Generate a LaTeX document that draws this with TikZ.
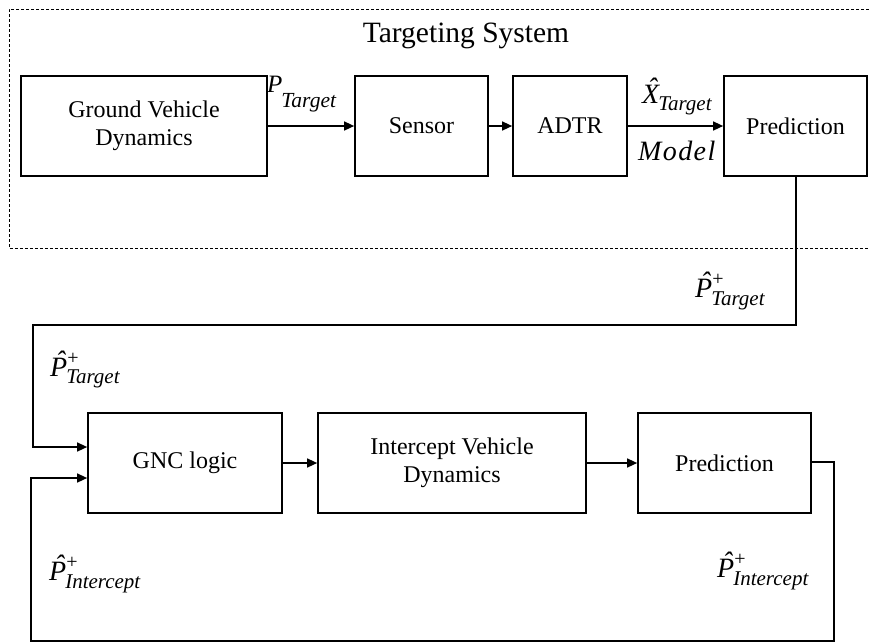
\documentclass[tikz,border=0pt]{standalone}
\usepackage{fontspec}
\setmainfont{Liberation Serif}
\usetikzlibrary{arrows.meta}
\newcommand{\hatlbl}[4]{% #1 letter, #2 sup, #3 sub, #4 drop
{\fontsize{28}{28}\selectfont\itshape\accent"02C6 #1}\rlap{\raisebox{12pt}{\fontsize{20}{20}\selectfont #2}}\kern-1pt\raisebox{-#4}{\fontsize{21}{21}\selectfont\itshape #3}}
\begin{document}
\begin{tikzpicture}[x=1pt,y=-1pt,
  blk/.style={draw,line width=1.7pt,minimum height=100pt,inner sep=0pt,align=center,font=\fontsize{24}{28}\selectfont},
  conn/.style={line width=1.4pt},
  arr/.style={conn,-{Triangle[length=10pt,width=9pt]}},
  lbl/.style={inner sep=0pt,anchor=base west},
  frame/.style={line width=1pt,dash pattern=on 3pt off 2pt}]
\useasboundingbox (0,0) rectangle (869,643);
\draw[frame] (869,9) -- (9,9) -- (9,248) -- (869,248);
\node[anchor=base,inner sep=0pt,font=\fontsize{29.5}{32}\selectfont] (title) at (466,42) {Targeting System};
% top row
\node[blk,minimum width=246pt] (gvd) at (144,126) {Ground Vehicle\\Dynamics};
\node[blk,minimum width=133pt] (sensor) at (421.5,126) {Sensor};
\node[blk,minimum width=114pt] (adtr) at (570,126) {ADTR};
\node[blk,minimum width=143pt] (pred1) at (795.5,126) {Prediction};
% bottom row
\node[blk,minimum width=194pt] (gnc) at (185,463) {GNC logic};
\node[blk,minimum width=268pt] (ivd) at (452,463) {Intercept Vehicle\\Dynamics};
\node[blk,minimum width=173pt] (pred2) at (724.5,463) {Prediction};
% coordinates for routing
\coordinate (c1) at (796,325);
\coordinate (c2) at (33,325);
\coordinate (c3) at (33,447);
\coordinate (d1) at (834,462);
\coordinate (d2) at (834,641);
\coordinate (d3) at (31,641);
\coordinate (d4) at (31,478);
% connectors
\draw[arr] (gvd.east) -- (sensor.west);
\draw[arr] (sensor.east) -- (adtr.west);
\draw[arr] (adtr.east) -- (pred1.west);
\draw[arr] (gnc.east) -- (ivd.west);
\draw[arr] (ivd.east |- pred2.west) -- (pred2.west);
\draw[arr] (pred1.south -| c1) -- (c1) -- (c2) -- (c3) -- (gnc.west |- c3);
\draw[arr] (pred2.east |- d1) -- (d1) -- (d2) -- (d3) -- (d4) -- (gnc.west |- d4);
% labels
\node[lbl] (lptgt) at (267,92) {{\fontsize{25}{25}\selectfont\itshape P}\kern-1pt\raisebox{-15pt}{\fontsize{21.5}{21.5}\selectfont\itshape Target}};
\node[lbl] (lxtgt) at (642,103) {\hatlbl{X}{}{Target}{7pt}};
\node[lbl,font=\fontsize{28}{28}\selectfont\itshape\addfontfeature{LetterSpace=5}] (lmodel) at (638,160) {Model};
\node[lbl] (lrt) at (695,297) {\hatlbl{P}{+}{Target}{8pt}};
\node[lbl] (llt) at (50,376) {\hatlbl{P}{+}{Target}{7pt}};
\node[lbl] (lli) at (49,580) {\hatlbl{P}{+}{Intercept}{8pt}};
\node[lbl] (lri) at (717,577) {\hatlbl{P}{+}{Intercept}{8pt}};
\end{tikzpicture}
\end{document}
